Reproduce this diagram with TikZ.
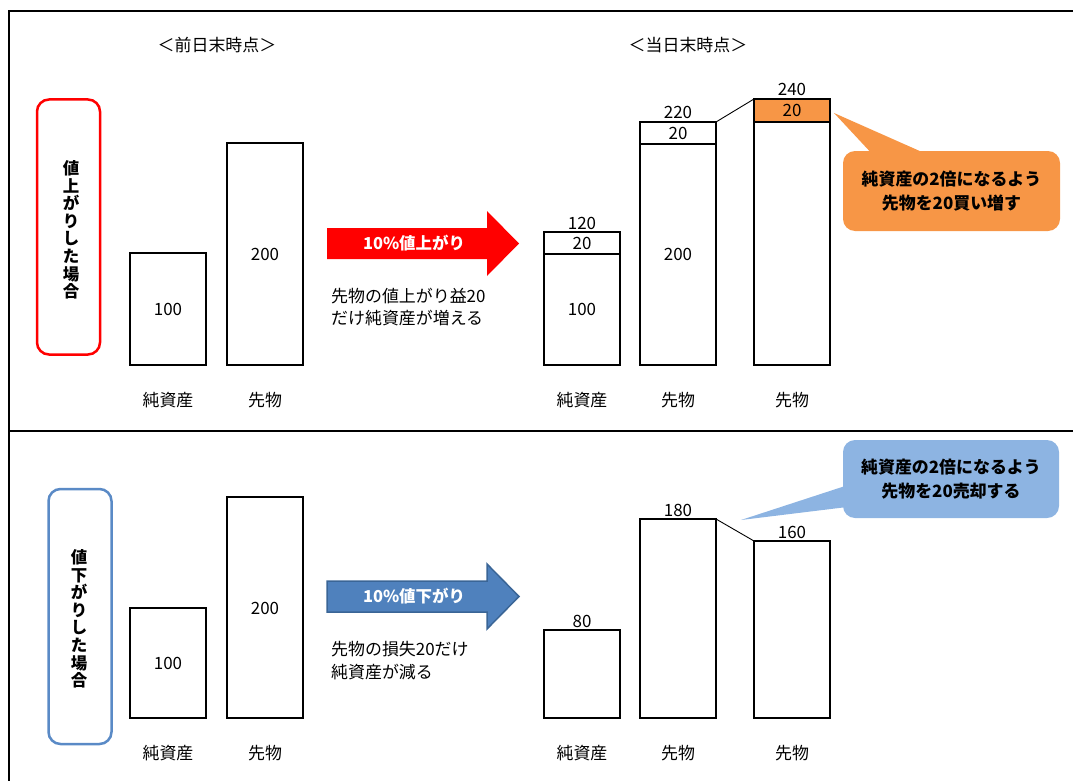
\documentclass[tikz,border=0pt]{standalone}
\usepackage{fontspec}
\setmainfont{Noto Sans CJK JP}
\definecolor{redc}{HTML}{FF0000}
\definecolor{blueA}{HTML}{4F81BD}
\definecolor{blueAb}{HTML}{3A6596}
\definecolor{blueBox}{HTML}{5A8AC6}
\definecolor{orangec}{HTML}{F79646}
\definecolor{blueCall}{HTML}{8DB4E2}
\begin{document}
\begin{tikzpicture}[x=1bp,y=-1bp,
  lbl/.style={font=\fontsize{17}{20}\selectfont, inner sep=0pt},
  desc/.style={font=\fontsize{17}{23}\selectfont, inner sep=0pt, align=left, anchor=west},
  bar/.style={draw, line width=1.6bp, inner sep=0pt, outer sep=0pt, minimum width=76bp,
    font=\fontsize{17}{20}\selectfont},
  vtext/.style={font=\fontsize{16.5}{17.6}\selectfont\bfseries, inner sep=0pt, align=center},
  sidebox/.style={line width=2.5bp, rounded corners=12bp, minimum width=63bp, minimum height=255bp},
  callout/.style={rounded corners=12bp, inner sep=0pt, align=center,
    font=\fontsize{17}{24}\selectfont\bfseries},
  arrtext/.style={font=\fontsize{16.5}{18}\selectfont\bfseries, text=white, inner sep=0pt},
  link/.style={line width=0.9bp}]
\useasboundingbox (0,0) rectangle (1073,781);
% frame
\draw[line width=1.6bp] (1073,11) -- (9,11) -- (9,781);
\draw[line width=1.6bp] (9,431) -- (1073,431);

% ================= TOP PANEL =================
\node[lbl] (t1) at (217,45) {＜前日末時点＞};
\node[lbl] (t2) at (688,45) {＜当日末時点＞};

\node[sidebox, draw=redc] (rbox) at (68.5,227) {};
\node[vtext] (rtxt) at (71,230) {値\\上\\が\\り\\し\\た\\場\\合};

% before bars
\node[bar, minimum height=112bp, anchor=south west] (a1) at (130,365) {100};
\node[bar, minimum height=222bp, anchor=south west] (a2) at (227,365) {200};
\node[lbl] (a1l) at (168,400) {純資産};
\node[lbl] (a2l) at (265,400) {先物};

% red arrow
\fill[redc] (327,228) -- (487,228) -- (487,211) -- (519,243.5) -- (487,276) -- (487,259) -- (327,259) -- cycle;
\node[arrtext] (upt) at (414,243.5) {10\%値上がり};
\node[desc] (upd) at (331,307) {先物の値上がり益20\\だけ純資産が増える};

% after bars
\node[bar, minimum height=111bp, anchor=south west] (b1) at (544,365) {100};
\node[bar, minimum height=22bp, anchor=south] (b1u) at (b1.north) {20};
\node[lbl, anchor=base] (b1n) at ([yshift=3bp]b1u.north) {120};

\node[bar, minimum height=221bp, anchor=south west] (b2) at (640,365) {200};
\node[bar, minimum height=22bp, anchor=south] (b2u) at (b2.north) {20};
\node[lbl, anchor=base] (b2n) at ([yshift=3bp]b2u.north) {220};

\node[bar, minimum height=243bp, anchor=south west] (b3) at (754,365) {};
\node[bar, minimum height=23bp, anchor=south, fill=orangec] (b3u) at (b3.north) {20};
\node[lbl, anchor=base] (b3n) at ([yshift=3bp]b3u.north) {240};

\draw[link] (b2u.north east) -- (b3u.north west);

\node[lbl] (b1l) at (582,400) {純資産};
\node[lbl] (b2l) at (678,400) {先物};
\node[lbl] (b3l) at (792,400) {先物};

% orange callout
\node[callout, fill=orangec, minimum width=217bp, minimum height=80bp] (c1) at (951.5,191) {純資産の2倍になるよう\\先物を20買い増す};
\coordinate (c1tip) at (834,113);
\fill[orangec] (c1tip) -- ([xshift=32bp,yshift=-6bp]c1.north west) -- ([xshift=90bp,yshift=-6bp]c1.north west) -- cycle;

% ================= BOTTOM PANEL =================
\node[sidebox, draw=blueBox] (bbox) at (80,616.5) {};
\node[vtext] (btxt) at (79,619) {値\\下\\が\\り\\し\\た\\場\\合};

\node[bar, minimum height=110bp, anchor=south west] (d1) at (130,718) {100};
\node[bar, minimum height=221bp, anchor=south west] (d2) at (227,718) {};
\node[lbl] (d2t) at (265,608) {200};
\node[lbl] (d1l) at (168,753) {純資産};
\node[lbl] (d2l) at (265,753) {先物};

% blue arrow
\filldraw[fill=blueA, draw=blueAb, line width=1.5bp, line join=miter]
  (327,581) -- (487,581) -- (487,564) -- (519,596.5) -- (487,629) -- (487,612) -- (327,612) -- cycle;
\node[arrtext] (dnt) at (414,596.5) {10\%値下がり};
\node[desc] (dnd) at (331,660.5) {先物の損失20だけ\\純資産が減る};

\node[bar, minimum height=88bp, anchor=south west] (e1) at (544,718) {};
\node[lbl, anchor=base] (e1n) at ([yshift=3bp]e1.north) {80};
\node[bar, minimum height=199bp, anchor=south west] (e2) at (640,718) {};
\node[lbl, anchor=base] (e2n) at ([yshift=3bp]e2.north) {180};
\node[bar, minimum height=177bp, anchor=south west] (e3) at (754,718) {};
\node[lbl, anchor=base] (e3n) at ([yshift=3bp]e3.north) {160};

\draw[link] (e2.north east) -- (e3.north west);

\node[lbl] (e1l) at (582,753) {純資産};
\node[lbl] (e2l) at (678,753) {先物};
\node[lbl] (e3l) at (792,753) {先物};

% blue callout
\node[callout, fill=blueCall, minimum width=216bp, minimum height=78bp] (c2) at (951,479) {純資産の2倍になるよう\\先物を20売却する};
\coordinate (c2tip) at (741,520);
\fill[blueCall] (c2tip) -- ([xshift=6bp,yshift=-45bp]c2.north west) -- ([xshift=6bp,yshift=-67bp]c2.north west) -- cycle;
\end{tikzpicture}
\end{document}
